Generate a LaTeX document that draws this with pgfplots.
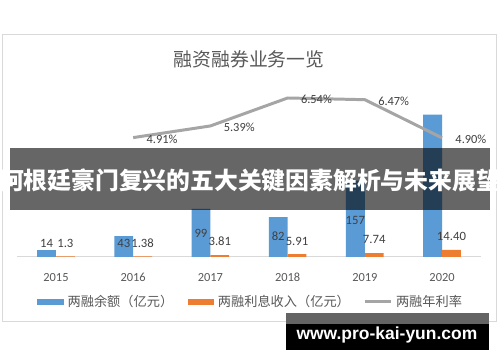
\documentclass[border=0pt]{standalone}
\usepackage{pgfplots}
\pgfplotsset{compat=1.18}
\usepackage{fontspec}
\setmainfont{Carlito}
\newfontfamily\cjk{Noto Sans CJK SC}
\newfontfamily\wm{Liberation Sans}
\definecolor{cblue}{RGB}{91,155,213}
\definecolor{corange}{RGB}{237,125,49}
\definecolor{cline}{RGB}{165,165,165}
\definecolor{cframe}{RGB}{217,217,217}
\definecolor{ctitle}{RGB}{89,89,89}
\definecolor{clabel}{RGB}{64,64,64}
\definecolor{cband}{RGB}{100,100,100}
\begin{document}
\begin{tikzpicture}
\begin{scope}[shift={(-16pt,-103pt)}, x=1pt, y=1pt]
\fill[white] (0,0) rectangle (500,362);
\path[use as bounding box] (0,0) rectangle (500,362);
\draw[cframe, line width=1pt] (1,38) rectangle (499,327);
\node[text=ctitle, font=\cjk\fontsize{19}{19}\selectfont] at (249.5,302) {融资融券业务一览};
\end{scope}

\begin{axis}[
  anchor=south west, scale only axis,
  width=467pt, height=171.5pt,
  xmin=-0.5, xmax=5.5, ymin=0, ymax=350,
  axis y line=none, axis x line*=bottom,
  x axis line style={draw=cframe, line width=1pt},
  xtick={0,1,2,3,4,5}, xticklabels={2015,2016,2017,2018,2019,2020},
  xtick style={draw=none},
  xticklabel style={font=\fontsize{12.5}{12.5}\selectfont, text=ctitle, yshift=-13pt},
  clip=false,
]
\addplot[ybar, bar width=19pt, bar shift=-9.5pt, fill=cblue, draw=none] coordinates {(0,14) (1,43) (2,99) (3,82) (4,157) (5,293)};
\addplot[ybar, bar width=19pt, bar shift=9.5pt, fill=corange, draw=none] coordinates {(0,1.3) (1,1.38) (2,3.81) (3,5.91) (4,7.74) (5,14.40)};
\begin{scope}[every node/.style={text=clabel, font=\fontsize{12.8}{12.8}\selectfont, anchor=center}]
\node[xshift=-9.5pt] at (axis cs:0,28.6) {14};
\node[xshift=-9.5pt] at (axis cs:1,28) {43};
\node[xshift=-9.5pt] at (axis cs:2,49) {99};
\node[xshift=-9.5pt] at (axis cs:3,42.9) {82};
\node[xshift=-9.5pt] at (axis cs:4,75.5) {157};
\node[xshift=9.5pt] at (axis cs:0,28.6) {1.3};
\node[xshift=9.5pt] at (axis cs:1,28) {1.38};
\node[xshift=9.5pt] at (axis cs:2,31.6) {3.81};
\node[xshift=9.5pt] at (axis cs:3,31.6) {5.91};
\node[xshift=9.5pt] at (axis cs:4,36.7) {7.74};
\node[xshift=9.5pt] at (axis cs:5,42.9) {14.40};
\end{scope}
\end{axis}

\begin{axis}[
  anchor=south west, scale only axis,
  width=467pt, height=171.5pt,
  xmin=-0.5, xmax=5.5, ymin=0, ymax=7,
  axis lines=none, clip=false,
]
\addplot[cline, line width=3pt, line join=round, mark=none] coordinates {(1,4.91) (2,5.39) (3,6.54) (4,6.47) (5,4.90)};
\begin{scope}[every node/.style={text=clabel, font=\fontsize{12.5}{12.5}\selectfont, anchor=west, xshift=10pt, yshift=-1.5pt}]
\node at (axis cs:1,4.91) {4.91\%};
\node at (axis cs:2,5.39) {5.39\%};
\node at (axis cs:3,6.54) {6.54\%};
\node at (axis cs:4,6.47) {6.47\%};
\node at (axis cs:5,4.90) {4.90\%};
\end{scope}
\end{axis}

\begin{scope}[shift={(-16pt,-103pt)}, x=1pt, y=1pt]
% legend
\fill[cblue] (36,55) rectangle (63.3,60.5);
\node[anchor=west, inner sep=0pt, text=ctitle, font=\cjk\fontsize{13.3}{13.3}\selectfont] at (66.5,58.5) {两融余额（亿元）};
\fill[corange] (188.3,55) rectangle (214,60.5);
\node[anchor=west, inner sep=0pt, text=ctitle, font=\cjk\fontsize{13.3}{13.3}\selectfont] at (218,58.5) {两融利息收入（亿元）};
\draw[cline, line width=3pt] (366,58) -- (393,58);
\node[anchor=west, inner sep=0pt, text=ctitle, font=\cjk\fontsize{13.3}{13.3}\selectfont] at (397.5,58.5) {两融年利率};
% banner
\fill[black, opacity=0.6] (9,150) rectangle (492,213);
\node[inner sep=0pt, text=white, font=\cjk\bfseries\fontsize{24}{24}\selectfont] at (250.5,180.5) {阿根廷豪门复兴的五大关键因素解析与未来展望};
% watermark
\fill[cband] (287,35) rectangle (491,47);
\fill[black] (287,9) rectangle (491,35);
\node[text=white, font=\wm\bfseries\fontsize{17.6}{17.6}\selectfont] at (388.5,24.7) {www.pro-kai-yun.com};
\end{scope}
\end{tikzpicture}
\end{document}
